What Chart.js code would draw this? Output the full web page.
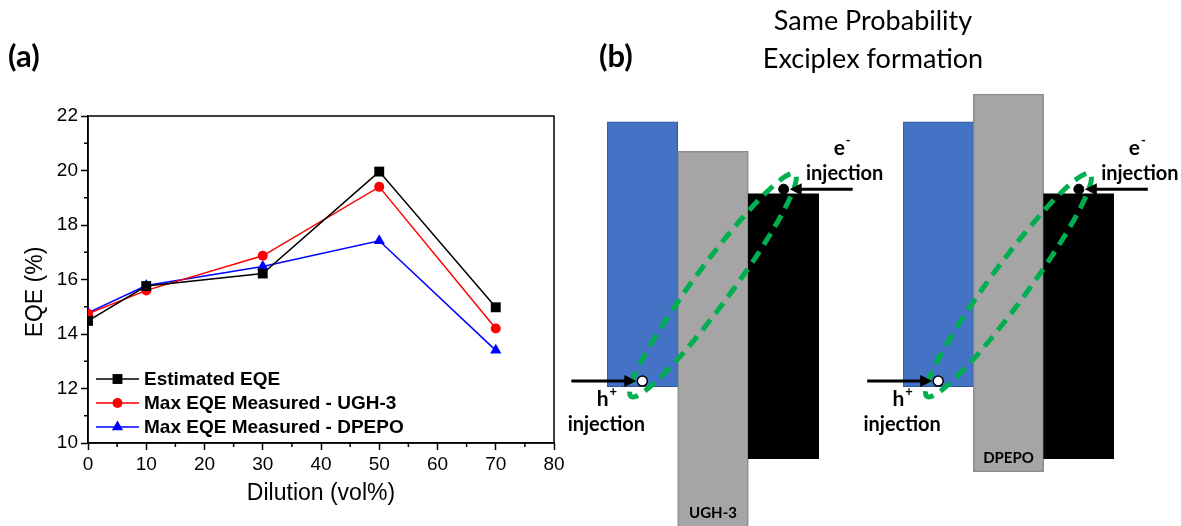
<!DOCTYPE html>
<html>
<head>
<meta charset="utf-8">
<script src="https://cdn.jsdelivr.net/npm/chart.js@4.4.1/dist/chart.umd.min.js"></script>
<style>
  body { margin: 0; background: #fff; }
  #wrap { position: relative; width: 1181px; height: 526px; overflow: hidden; background: #fff; }
  #wrap canvas { position: absolute; left: 0; top: 0; }
  .lbl { position: absolute; font-family: Lato, "Open Sans", sans-serif; color: #000; white-space: nowrap; }
</style>
</head>
<body>
<div id="wrap">
  <canvas id="grafico" width="1181" height="526"></canvas>
  <canvas id="diagUGH" width="1181" height="526"></canvas>
  <canvas id="diagDPEPO" width="1181" height="526"></canvas>
  <div class="lbl" style="left:8px; top:36px; line-height:38px; font-size:31px; font-weight:bold;">(a)</div>
  <div class="lbl" style="left:599px; top:36px; line-height:38px; font-size:31px; font-weight:bold;">(b)</div>
  <div class="lbl" style="left:673px; width:400px; top:1px; line-height:38px; font-size:27px; text-align:center;">Same Probability<br>Exciplex formation</div>
</div>
<script>
// dados do gráfico (a)
const diluicao = [0, 10, 30, 50, 70];
const eqeEstimado = [14.48, 15.76, 16.22, 19.96, 14.98];
const eqeUGH3 = [14.74, 15.6, 16.87, 19.4, 14.2];
const eqeDPEPO = [14.78, 15.78, 16.48, 17.42, 13.4];
const nomesSeries = ['Estimated EQE', 'Max EQE Measured - UGH-3', 'Max EQE Measured - DPEPO'];
const ticksX = [0, 10, 20, 30, 40, 50, 60, 70, 80];
const ticksY = [10, 12, 14, 16, 18, 20, 22];

// dados do diagrama (b): níveis [HOMO, LUMO] em eV
const camadas = ['Donor', 'Host', 'Acceptor'];
const nivelDoador = [-5.19, -2.32];
const nivelUGH3 = [-7.2, -2.64];
const nivelDPEPO = [-6.11, -2.02];
const nivelAceitador = [-5.97, -3.10];
const nivelBuraco = -5.13;
const nivelEletron = -3.05;
const hosts = ['UGH-3', 'DPEPO'];

const fonteA = 'Liberation Sans, Arial, sans-serif';
const fonteB = 'Lato, "Open Sans", sans-serif';

const pontos = (ys) => diluicao.map((x, i) => ({ x: x, y: ys[i] }));
const meios = (arr) => arr.slice(1).map((v, i) => (v + arr[i]) / 2);

// moldura + ticks menores + título do eixo y
const moldura = {
    id: 'moldura',
    beforeDatasetsDraw(chart) {
        const { ctx, chartArea: a, scales } = chart;
        ctx.save();
        ctx.strokeStyle = '#000';
        ctx.lineWidth = 1.5;
        ctx.strokeRect(a.left, a.top, a.right - a.left, a.bottom - a.top);
        ctx.beginPath();
        meios(ticksX).forEach(v => {
            const x = scales.x.getPixelForValue(v);
            ctx.moveTo(x, a.bottom);
            ctx.lineTo(x, a.bottom + 4);
        });
        meios(ticksY).forEach(v => {
            const y = scales.y.getPixelForValue(v);
            ctx.moveTo(a.left, y);
            ctx.lineTo(a.left - 4, y);
        });
        ctx.stroke();

        ctx.translate(36, 292);
        ctx.rotate(-Math.PI / 2);
        ctx.fillStyle = '#000';
        ctx.font = '23px ' + fonteA;
        ctx.textAlign = 'center';
        ctx.textBaseline = 'middle';
        ctx.fillText('EQE (%)', 0, 0);
        ctx.restore();
    }
};

function marcador(ctx, ds, x, y) {
    ctx.fillStyle = ds.pointBackgroundColor;
    ctx.strokeStyle = ds.pointBackgroundColor;
    Chart.helpers.drawPoint(ctx, { pointStyle: ds.pointStyle, radius: ds.pointRadius, rotation: 0, borderWidth: 0 }, x, y);
}

// 🔥 legenda dentro do gráfico (linha + marcador)
const legendaInterna = {
    id: 'legendaInterna',
    afterDraw(chart) {
        const { ctx, chartArea: a } = chart;
        ctx.save();
        chart.data.datasets.forEach((ds, i) => {
            const y = a.bottom - 64 + i * 24;
            const x0 = a.left + 8;
            ctx.strokeStyle = ds.borderColor;
            ctx.lineWidth = 1.5;
            ctx.beginPath();
            ctx.moveTo(x0, y);
            ctx.lineTo(x0 + 43, y);
            ctx.stroke();
            marcador(ctx, ds, x0 + 21.5, y);
            ctx.fillStyle = '#000';
            ctx.font = 'bold 19px ' + fonteA;
            ctx.textBaseline = 'middle';
            ctx.fillText(ds.label, x0 + 48, y + 1);
        });
        ctx.restore();
    }
};

const ctx = document.getElementById('grafico').getContext('2d');
const cores = ['#000000', '#ff0000', '#0000ff'];
const estilos = ['rect', 'circle', 'triangle'];
const raios = [7, 5, 6.5];
const series = [eqeEstimado, eqeUGH3, eqeDPEPO];

const grafico = new Chart(ctx, {
    type: 'line',
    data: {
        datasets: series.map((s, i) => ({
            label: nomesSeries[i],
            data: pontos(s),
            borderColor: cores[i],
            backgroundColor: cores[i],
            pointBackgroundColor: cores[i],
            pointBorderWidth: 0,
            pointStyle: estilos[i],
            pointRadius: raios[i],
            borderWidth: 1.5,
            tension: 0
        }))
    },
    options: {
        responsive: false,
        animation: false,
        layout: { autoPadding: false, padding: { left: 0, top: 116, right: 627, bottom: 0 } },
        plugins: { legend: { display: false }, tooltip: { enabled: false } },
        scales: {
            x: {
                type: 'linear', min: 0, max: 80,
                afterBuildTicks: s => { s.ticks = ticksX.map(v => ({ value: v })); },
                afterFit: s => { s.height = 83; },
                ticks: { color: '#000', font: { family: fonteA, size: 19 }, padding: 3, autoSkip: false, maxRotation: 0 },
                grid: { drawOnChartArea: false, tickLength: 7, tickColor: '#000', tickWidth: 1.5 },
                border: { color: '#000', width: 1.5 },
                title: { display: true, text: 'Dilution (vol%)', color: '#000', font: { family: fonteA, size: 23 }, padding: { top: 0, bottom: 19 } }
            },
            y: {
                type: 'linear', min: 10, max: 22,
                afterBuildTicks: s => { s.ticks = ticksY.map(v => ({ value: v })); },
                afterFit: s => { s.width = 88; },
                ticks: { color: '#000', font: { family: fonteA, size: 19 }, padding: 3, autoSkip: false },
                grid: { drawOnChartArea: false, tickLength: 7, tickColor: '#000', tickWidth: 1.5 },
                border: { color: '#000', width: 1.5 }
            }
        }
    },
    plugins: [moldura, legendaInterna]
});

// ---------- diagrama (b) ----------
function seta(c, x0, x1, y) {
    const dir = Math.sign(x1 - x0);
    c.strokeStyle = '#000';
    c.fillStyle = '#000';
    c.lineWidth = 3;
    c.beginPath();
    c.moveTo(x0, y);
    c.lineTo(x1 - dir * 9, y);
    c.stroke();
    c.beginPath();
    c.moveTo(x1, y);
    c.lineTo(x1 - dir * 12, y - 6);
    c.lineTo(x1 - dir * 12, y + 6);
    c.closePath();
    c.fill();
}

function textoSup(c, base, sup, cx, y) {
    c.font = 'bold 21px ' + fonteB;
    const w1 = c.measureText(base).width;
    c.font = 'bold 13px ' + fonteB;
    const w2 = c.measureText(sup).width;
    const x = cx - (w1 + w2) / 2;
    c.textAlign = 'left';
    c.textBaseline = 'middle';
    c.font = 'bold 21px ' + fonteB;
    c.fillText(base, x, y);
    c.font = 'bold 13px ' + fonteB;
    c.fillText(sup, x + w1 + 1, y - 7);
}

const anotacoes = {
    id: 'anotacoes',
    afterDatasetDraw(chart, args) {
        if (args.index !== 2) return;
        const a = chart.getDatasetMeta(0).data[0];
        const b = chart.getDatasetMeta(1).data[2];
        const c = chart.ctx;
        c.save();
        c.beginPath();
        c.ellipse((a.x + b.x) / 2, (a.y + b.y) / 2,
            Math.hypot(b.x - a.x, b.y - a.y) / 2 + 19, 19,
            Math.atan2(b.y - a.y, b.x - a.x), 0.15, 2 * Math.PI - 0.1);
        c.setLineDash([13, 8]);
        c.lineWidth = 5;
        c.strokeStyle = '#00B050';
        c.stroke();
        c.restore();
    },
    afterDraw(chart) {
        const c = chart.ctx;
        const h = chart.getDatasetMeta(0).data[0];
        const e = chart.getDatasetMeta(1).data[2];
        const barra = chart.getDatasetMeta(2).data[1];
        c.save();
        seta(c, h.x - 71, h.x - 6, h.y);
        seta(c, e.x + 69, e.x + 6, e.y);
        c.fillStyle = '#000';
        textoSup(c, 'h', '+', h.x - 36, h.y + 18);
        textoSup(c, 'e', '-', e.x + 58, e.y - 41);
        c.font = 'bold 20px ' + fonteB;
        c.textAlign = 'center';
        c.textBaseline = 'middle';
        c.fillText('injection', h.x - 36, h.y + 43);
        c.fillText('injection', e.x + 61, e.y - 16);
        const fundo = Math.min(Math.max(barra.y, barra.base), chart.chartArea.bottom);
        c.font = 'bold 15px ' + fonteB;
        c.fillText(chart.options.plugins.anotacoes.host, barra.x, fundo - 13);
        c.restore();
    }
};

function criarDiagrama(id, host, nivelHost, esquerda, direita) {
    return new Chart(document.getElementById(id), {
        data: {
            labels: camadas,
            datasets: [
                { type: 'line', data: [nivelBuraco, null, null], showLine: false, pointRadius: 5,
                  pointBackgroundColor: '#fff', pointBorderColor: '#000', pointBorderWidth: 1.5, order: 0 },
                { type: 'line', data: [null, null, nivelEletron], showLine: false, pointRadius: 5,
                  pointBackgroundColor: '#000', pointBorderColor: '#000', pointBorderWidth: 1, order: 0 },
                { type: 'bar', data: [nivelDoador, nivelHost, nivelAceitador],
                  backgroundColor: ['#4472C4', '#A5A5A5', '#000000'],
                  borderColor: ['#2F5597', '#8C8C8C', '#000000'],
                  borderWidth: [1, 1.5, 0], borderSkipped: false,
                  barPercentage: 1, categoryPercentage: 1, order: 2 }
            ]
        },
        options: {
            responsive: false,
            animation: false,
            layout: { autoPadding: false, padding: { left: esquerda, right: direita, top: 0, bottom: 0 } },
            plugins: { legend: { display: false }, tooltip: { enabled: false }, anotacoes: { host: host } },
            scales: {
                x: { display: false },
                y: { display: false, min: -6.7, max: -1.0 }
            }
        },
        plugins: [anotacoes]
    });
}

criarDiagrama('diagUGH', hosts[0], nivelUGH3, 607, 1181 - 819);
criarDiagrama('diagDPEPO', hosts[1], nivelDPEPO, 903, 1181 - 1114);
</script>
</body>
</html>
